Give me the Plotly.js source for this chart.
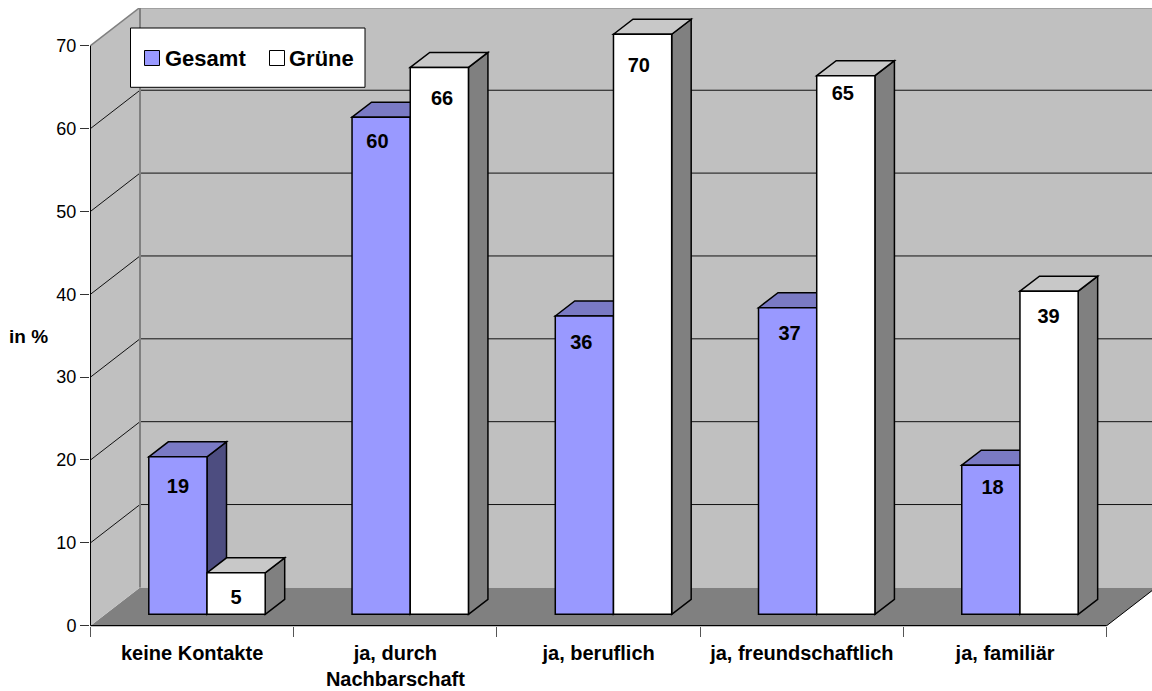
<!DOCTYPE html>
<html>
<head>
<meta charset="utf-8">
<script src="https://cdn.plot.ly/plotly-3.0.1.min.js"></script>
<style>html,body{margin:0;padding:0;background:#fff}#chart{width:1152px;height:691px}</style>
</head>
<body>
<div id="chart"></div>
<script>
// Contact with foreigners: share of respondents, all vs. Green voters
const categories = ['keine Kontakte', 'ja, durch<br>Nachbarschaft', 'ja, beruflich', 'ja, freundschaftlich', 'ja, familiär'];
const gesamt = [19, 60, 36, 37, 18];
const gruene = [5, 66, 70, 65, 39];
const seriesNames = ['Gesamt', 'Grüne'];
const yTicks = [0, 10, 20, 30, 40, 50, 60, 70];

// Scale of the drawing area
const W = 1152, H = 691;
const M = {l: 90, r: 0, t: 8, b: 65};
const plotW = W - M.l - M.r, plotH = H - M.t - M.b;
const catPx = 203.24, unitPx = 8.286;
const zeroPx = 625.7, leftPx = 90.5;
const xRange = [-0.5 - (leftPx - M.l) / catPx, -0.5 - (leftPx - M.l) / catPx + plotW / catPx];
const yRange = [(zeroPx - (H - M.b)) / unitPx, (zeroPx - M.t) / unitPx];
const px = p => (p - M.l) / plotW;
const py = p => (H - M.b - p) / plotH;

// Oblique projection offsets: room depth and bar depth
const wallDx = 49.5 / catPx, wallDy = 38.3 / unitPx;
const barDx = 19.5 / catPx, barDy = 15 / unitPx;
const barBase = 11.4 / unitPx;
const groupShift = 0.0732, barW = 58.2 / catPx;

const C = {
  wall: '#c0c0c0', floor: '#808080', edge: '#808080', grid: '#111111',
  blue: '#9999ff', blueTop: '#7a7ac4', blueSide: '#4d4d80',
  white: '#ffffff', whiteTop: '#c8c8c8', whiteSide: '#808080'
};
const FONT = 'Liberation Sans, Arial, sans-serif';

const poly = pts => 'M' + pts.map(p => p[0] + ',' + p[1]).join('L') + 'Z';
const xL = -0.5, xR = 4.5;
const shapes = [];
const addFace = (pts, fill, line, width) => shapes.push({
  type: 'path', path: poly(pts), xref: 'x', yref: 'y', layer: 'below',
  fillcolor: fill, line: {color: line || fill, width: width === undefined ? 0 : width}
});
const addLine = (x0, y0, x1, y1, color, width) => shapes.push({
  type: 'line', x0, y0, x1, y1, xref: 'x', yref: 'y', layer: 'below', line: {color, width}
});

// Room: floor, back wall, side wall
const wallTop = 70;
addFace([[xL, 0], [xR, 0], [xR + wallDx, wallDy], [xL + wallDx, wallDy]], C.floor);
addFace([[xL + wallDx, wallDy], [xR + wallDx, wallDy], [xR + wallDx, wallTop + wallDy], [xL + wallDx, wallTop + wallDy]], C.wall);
addFace([[xL, 0], [xL + wallDx, wallDy], [xL + wallDx, wallTop + wallDy], [xL, wallTop]], C.wall);

// Gridlines run along the side wall and across the back wall
yTicks.slice(1, -1).forEach(v => {
  addLine(xL, v, xL + wallDx, v + wallDy, C.grid, 1);
  addLine(xL + wallDx, v + wallDy, xR + wallDx, v + wallDy, C.grid, 1);
});
addLine(xL, wallTop, xL + wallDx, wallTop + wallDy, C.edge, 1.5);
addLine(xL + wallDx, wallTop + wallDy, xR + wallDx, wallTop + wallDy, C.edge, 2);
addLine(xL + wallDx, wallDy, xL + wallDx, wallTop + wallDy, C.edge, 2);
addLine(xR, 0, xR + wallDx, wallDy, '#000', 1);

// Side and top faces of each column; the front faces are the bar traces
const addColumn = (left, value, topColor, sideColor) => {
  const right = left + barW, t = value + barBase;
  addFace([[right, barBase], [right + barDx, barBase + barDy], [right + barDx, t + barDy], [right, t]], sideColor, '#000', 1.5);
  addFace([[left, t], [left + barDx, t + barDy], [right + barDx, t + barDy], [right, t]], topColor, '#000', 1.5);
};
const centres = categories.map((_, i) => i + groupShift);
centres.forEach((c, i) => {
  addColumn(c - barW, gesamt[i], C.blueTop, C.blueSide);
  addColumn(c, gruene[i], C.whiteTop, C.whiteSide);
});

// Axis lines
shapes.push({type: 'line', xref: 'paper', yref: 'y', x0: px(leftPx), x1: px(leftPx), y0: 0, y1: wallTop, layer: 'above', line: {color: '#000', width: 1}});
shapes.push({type: 'line', xref: 'x', yref: 'paper', x0: xL, x1: xR, y0: py(zeroPx), y1: py(zeroPx), layer: 'above', line: {color: '#000', width: 1.2}});

// Legend box and its swatches
shapes.push({type: 'rect', xref: 'paper', yref: 'paper', x0: px(130.5), x1: px(365), y0: py(28), y1: py(87.3), layer: 'above', fillcolor: '#fff', line: {color: '#000', width: 1}});
const swatch = (x, fill) => shapes.push({type: 'rect', xref: 'paper', yref: 'paper', x0: px(x), x1: px(x + 15), y0: py(50.5), y1: py(65.5), layer: 'above', fillcolor: fill, line: {color: '#000', width: 1}});
swatch(144.5, C.blue);
swatch(269.5, C.white);

const annotations = [
  {text: '<b>in %</b>', xref: 'paper', yref: 'paper', x: px(28.5), y: py(336), xanchor: 'center', yanchor: 'middle', showarrow: false, font: {family: FONT, size: 19, color: '#000'}},
  {text: '<b>' + seriesNames[0] + '</b>', xref: 'paper', yref: 'paper', x: px(162.5), y: py(59), xanchor: 'left', yanchor: 'middle', showarrow: false, font: {family: FONT, size: 22, color: '#000'}},
  {text: '<b>' + seriesNames[1] + '</b>', xref: 'paper', yref: 'paper', x: px(287), y: py(59), xanchor: 'left', yanchor: 'middle', showarrow: false, font: {family: FONT, size: 22, color: '#000'}}
];

// Value labels sit a varying distance below each column top
const dropGesamt = [31, 26, 28, 27, 23.5], dropGruene = [26, 32.5, 32.5, 19, 26.5];
const nudgeGesamt = [0, -3.7, -3, 2, 1.7], nudgeGruene = [0, 2.7, -3.7, -3, -0.5];
const labelTrace = (vals, drops, nudges, sign) => ({
  type: 'scatter', mode: 'text', showlegend: false, hoverinfo: 'skip', cliponaxis: false,
  x: vals.map((_, i) => centres[i] + sign * barW / 2 + nudges[i] / catPx),
  y: vals.map((v, i) => v + barBase - drops[i] / unitPx),
  text: vals.map(v => '<b>' + v + '</b>'),
  textposition: 'middle center',
  textfont: {family: FONT, size: 20, color: '#000'}
});

const barTrace = (name, vals, fill) => ({
  type: 'bar', name, x: centres, y: vals, base: barBase,
  marker: {color: fill, line: {color: '#000', width: 1.5}}, showlegend: false
});

const traces = [
  barTrace(seriesNames[0], gesamt, C.blue),
  barTrace(seriesNames[1], gruene, C.white),
  labelTrace(gesamt, dropGesamt, nudgeGesamt, -1),
  labelTrace(gruene, dropGruene, nudgeGruene, 1)
];

const layout = {
  width: W, height: H,
  margin: M, paper_bgcolor: '#fff', plot_bgcolor: '#fff',
  showlegend: false, barmode: 'group', bargap: 1 - 2 * barW, bargroupgap: 0,
  font: {family: FONT, color: '#000'},
  xaxis: {
    range: xRange, showgrid: false, zeroline: false, showline: false,
    tickmode: 'array', tickvals: categories.map((_, i) => i),
    ticktext: categories.map(c => '<b>' + c + '</b>'),
    ticks: 'outside', ticklen: 9, tickcolor: 'rgba(0,0,0,0)', tickangle: 0,
    tickfont: {family: FONT, size: 20, color: '#000'},
    minor: {tickmode: 'array', tickvals: [-0.5, 0.5, 1.5, 2.5, 3.5, 4.5], ticks: 'outside', ticklen: 10, tickcolor: '#555', tickwidth: 1, showgrid: false}
  },
  yaxis: {
    range: yRange, showgrid: false, zeroline: false, showline: false,
    tickmode: 'array', tickvals: yTicks, ticks: 'outside', ticklen: 9, tickcolor: '#333', tickwidth: 1,
    tickfont: {family: FONT, size: 18, color: '#000'}
  },
  shapes, annotations
};

Plotly.newPlot('chart', traces, layout, {displayModeBar: false, staticPlot: true});
</script>
</body>
</html>
